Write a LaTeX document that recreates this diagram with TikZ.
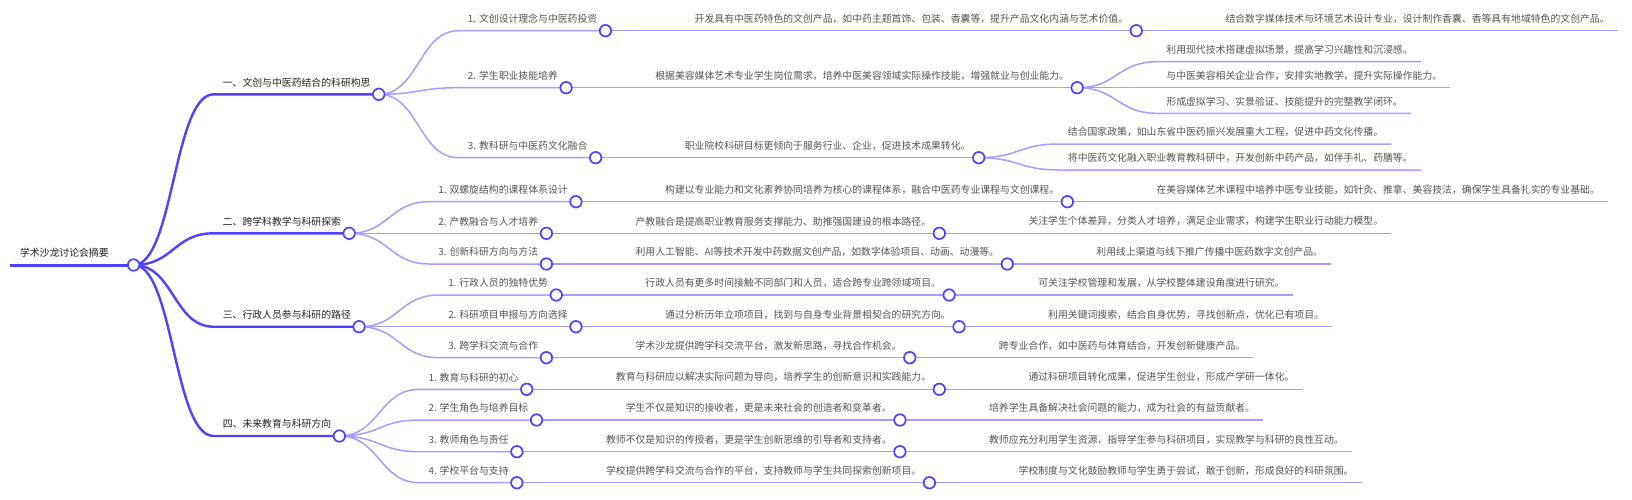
\documentclass[tikz,border=0pt]{standalone}
\usepackage{fontspec}
\newfontfamily\cjk{Noto Sans CJK SC}
\usetikzlibrary{calc}
\pgfdeclarelayer{fg}
\pgfsetlayers{main,fg}
\definecolor{deep}{RGB}{80,64,255}
\definecolor{light}{RGB}{165,158,255}
\definecolor{tdark}{RGB}{34,34,34}
\definecolor{tgray}{RGB}{85,85,85}
\tikzset{
  deepline/.style={draw=deep, line width=2.4pt},
  lightline/.style={draw=light, line width=1.5pt},
  tone/.style={font=\cjk\fontsize{9.85pt}{12pt}\selectfont, text=tdark, inner sep=0pt},
  ttwo/.style={font=\cjk\fontsize{9.85pt}{12pt}\selectfont, text=tgray, inner sep=0pt},
  dot/.style={circle, draw=deep, fill=white, line width=1.7pt, minimum size=11.5pt, inner sep=0pt},
}
% #1 name, #2 parent end coordinate, #3 line y, #4 text, #5 line style, #6 text style
\newcommand\mmnode[6]{%
  \coordinate (#1s) at ($(#2 |- 0,#3)+(80,0)$);
  \node[#6, anchor=west] (#1t) at ($(#1s)+(9,-12)$) {#4};
  \coordinate (#1e) at ($(#1t.east |- #1s)+(8,0)$);
  \draw[#5] (#2) .. controls ($(#2)+(40,0)$) and ($(#1s)+(-40,0)$) .. (#1s) -- (#1e);
}
\newcommand\mmdot[1]{\begin{pgfonlayer}{fg}\node[dot] at (#1e) {};\end{pgfonlayer}}
\newcommand\Lnode[4]{\mmnode{#1}{#2}{#3}{#4}{lightline}{ttwo}}
\begin{document}
\begin{tikzpicture}[x=1pt,y=-1pt]
\useasboundingbox (0,0) rectangle (1632,499);
\fill[white] (0,0) rectangle (1632,499);
% root
\coordinate (r0) at (10,265);
\coordinate (re) at (133.6,265);
\node[tone, anchor=west] (rt) at (19.8,253) {学术沙龙讨论会摘要};
\draw[draw=deep, line width=3pt] (r0) -- (re);
\mmdot{r}
% level 1
\mmnode{a}{re}{94.3}{一、文创与中医药结合的科研构思}{deepline}{tone}\mmdot{a}
\mmnode{b}{re}{233.3}{二、跨学科教学与科研探索}{deepline}{tone}\mmdot{b}
\mmnode{c}{re}{326.7}{三、行政人员参与科研的路径}{deepline}{tone}\mmdot{c}
\mmnode{d}{re}{436}{四、未来教育与科研方向}{deepline}{tone}\mmdot{d}
% branch a
\Lnode{aA}{ae}{30.7}{1. 文创设计理念与中医药投资}\mmdot{aA}
\Lnode{aAx}{aAe}{30.7}{开发具有中医药特色的文创产品，如中药主题首饰、包装、香囊等，提升产品文化内涵与艺术价值。}\mmdot{aAx}
\Lnode{aAxx}{aAxe}{30.7}{结合数字媒体技术与环境艺术设计专业，设计制作香囊、香等具有地域特色的文创产品。}
\Lnode{aB}{ae}{87.7}{2. 学生职业技能培养}\mmdot{aB}
\Lnode{aBx}{aBe}{87.7}{根据美容媒体艺术专业学生岗位需求，培养中医美容领域实际操作技能，增强就业与创业能力。}\mmdot{aBx}
\Lnode{aBxa}{aBxe}{61.7}{利用现代技术搭建虚拟场景，提高学习兴趣性和沉浸感。}
\Lnode{aBxb}{aBxe}{87.7}{与中医美容相关企业合作，安排实地教学，提升实际操作能力。}
\Lnode{aBxc}{aBxe}{113.3}{形成虚拟学习、实景验证、技能提升的完整教学闭环。}
\Lnode{aC}{ae}{157.7}{3. 教科研与中医药文化融合}\mmdot{aC}
\Lnode{aCx}{aCe}{157.7}{职业院校科研目标更倾向于服务行业、企业，促进技术成果转化。}\mmdot{aCx}
\Lnode{aCxa}{aCxe}{144}{结合国家政策，如山东省中医药振兴发展重大工程，促进中药文化传播。}
\Lnode{aCxb}{aCxe}{170}{将中医药文化融入职业教育教科研中，开发创新中药产品，如伴手礼、药膳等。}
% branch b
\Lnode{bA}{be}{201.7}{1. 双螺旋结构的课程体系设计}\mmdot{bA}
\Lnode{bAx}{bAe}{201.7}{构建以专业能力和文化素养协同培养为核心的课程体系，融合中医药专业课程与文创课程。}\mmdot{bAx}
\Lnode{bAxx}{bAxe}{201.7}{在美容媒体艺术课程中培养中医专业技能，如针灸、推拿、美容技法，确保学生具备扎实的专业基础。}
\Lnode{bB}{be}{233.3}{2. 产教融合与人才培养}\mmdot{bB}
\Lnode{bBx}{bBe}{233.3}{产教融合是提高职业教育服务支撑能力、助推强国建设的根本路径。}\mmdot{bBx}
\Lnode{bBxx}{bBxe}{233.3}{关注学生个体差异，分类人才培养，满足企业需求，构建学生职业行动能力模型。}
\Lnode{bC}{be}{264}{3. 创新科研方向与方法}\mmdot{bC}
\Lnode{bCx}{bCe}{264}{利用人工智能、AI等技术开发中药数据文创产品，如数字体验项目、动画、动漫等。}\mmdot{bCx}
\Lnode{bCxx}{bCxe}{264}{利用线上渠道与线下推广传播中医药数字文创产品。}
% branch c
\Lnode{cA}{ce}{295}{1. 行政人员的独特优势}\mmdot{cA}
\Lnode{cAx}{cAe}{295}{行政人员有更多时间接触不同部门和人员，适合跨专业跨领域项目。}\mmdot{cAx}
\Lnode{cAxx}{cAxe}{295}{可关注学校管理和发展，从学校整体建设角度进行研究。}
\Lnode{cB}{ce}{326.7}{2. 科研项目申报与方向选择}\mmdot{cB}
\Lnode{cBx}{cBe}{326.7}{通过分析历年立项项目，找到与自身专业背景相契合的研究方向。}\mmdot{cBx}
\Lnode{cBxx}{cBxe}{326.7}{利用关键词搜索，结合自身优势，寻找创新点，优化已有项目。}
\Lnode{cC}{ce}{357.7}{3. 跨学科交流与合作}\mmdot{cC}
\Lnode{cCx}{cCe}{357.7}{学术沙龙提供跨学科交流平台，激发新思路，寻找合作机会。}\mmdot{cCx}
\Lnode{cCxx}{cCxe}{357.7}{跨专业合作，如中医药与体育结合，开发创新健康产品。}
% branch d
\Lnode{dA}{de}{389.3}{1. 教育与科研的初心}\mmdot{dA}
\Lnode{dAx}{dAe}{389.3}{教育与科研应以解决实际问题为导向，培养学生的创新意识和实践能力。}\mmdot{dAx}
\Lnode{dAxx}{dAxe}{389.3}{通过科研项目转化成果，促进学生创业，形成产学研一体化。}
\Lnode{dB}{de}{420}{2. 学生角色与培养目标}\mmdot{dB}
\Lnode{dBx}{dBe}{420}{学生不仅是知识的接收者，更是未来社会的创造者和变革者。}\mmdot{dBx}
\Lnode{dBxx}{dBxe}{420}{培养学生具备解决社会问题的能力，成为社会的有益贡献者。}
\Lnode{dC}{de}{451.7}{3. 教师角色与责任}\mmdot{dC}
\Lnode{dCx}{dCe}{451.7}{教师不仅是知识的传授者，更是学生创新思维的引导者和支持者。}\mmdot{dCx}
\Lnode{dCxx}{dCxe}{451.7}{教师应充分利用学生资源，指导学生参与科研项目，实现教学与科研的良性互动。}
\Lnode{dD}{de}{482.7}{4. 学校平台与支持}\mmdot{dD}
\Lnode{dDx}{dDe}{482.7}{学校提供跨学科交流与合作的平台，支持教师与学生共同探索创新项目。}\mmdot{dDx}
\Lnode{dDxx}{dDxe}{482.7}{学校制度与文化鼓励教师与学生勇于尝试，敢于创新，形成良好的科研氛围。}
\end{tikzpicture}
\end{document}
